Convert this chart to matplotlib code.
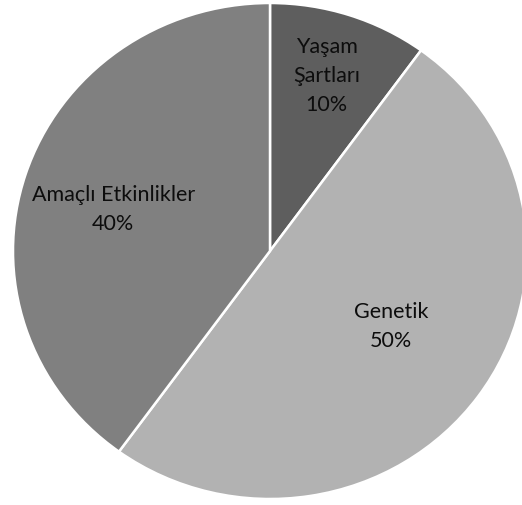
import matplotlib.pyplot as plt

labels = ['Yaşam\nŞartları', 'Genetik', 'Amaçlı Etkinlikler']
values = [10, 50, 40]
colors = ['#5e5e5e', '#b2b2b2', '#808080']
# label positions inside the slices (data coords, radius 1)
label_pos = [(0.22, 0.71), (0.47, -0.30), (-0.61, 0.17)]

fig = plt.figure(figsize=(5.22, 5.06), dpi=100)
ax = fig.add_axes([13 / 522, 6 / 506, 514 / 522, 496 / 506])

wedges, _ = ax.pie(values, colors=colors, startangle=90, counterclock=False,
                   radius=1, wedgeprops=dict(edgecolor='white', linewidth=1.8))
ax.set_aspect('auto')
ax.set_xlim(-1, 1)
ax.set_ylim(-1, 1)

for lab, v, (x, y) in zip(labels, values, label_pos):
    ax.text(x, y, '%s\n%d%%' % (lab, v), ha='center', va='center',
            fontsize=15.5, family=['Lato', 'DejaVu Sans'], color='#0d0d0d',
            linespacing=1.55)

fig.savefig('out.png', dpi=100)
